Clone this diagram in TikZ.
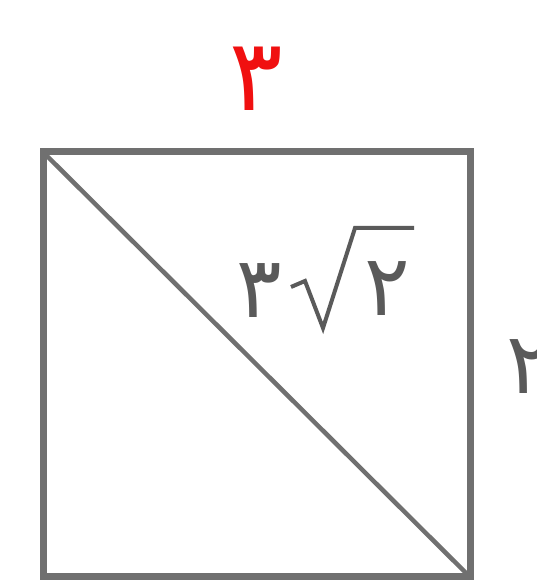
\documentclass[tikz,border=0pt]{standalone}
\usepackage{fontspec}
\newfontfamily\arabicfont[Script=Arabic]{DejaVu Sans}
\definecolor{edge}{HTML}{707070}
\definecolor{ink}{HTML}{5A5A5A}
\definecolor{redink}{HTML}{F01010}
\tikzset{
  frame/.style={draw=edge, line width=7pt},
  diag/.style={draw=edge, line width=4.5pt},
  radical/.style={draw=ink, line width=4pt, line join=miter},
  lab/.style={font=\arabicfont\fontsize{85}{85}\selectfont, text=ink, inner sep=0pt},
  redlab/.style={font=\arabicfont\fontsize{100}{100}\selectfont, text=redink, inner sep=0pt}
}
\begin{document}
\begin{tikzpicture}[x=1pt,y=1pt]
\useasboundingbox (0,0) rectangle (537,580);
\fill[white] (0,0) rectangle (537,580);
\coordinate (tl) at (43,428);
\coordinate (tr) at (470,428);
\coordinate (br) at (470,3);
\coordinate (bl) at (43,3);
\draw[diag] (tl) -- (br);
\draw[frame] (tl) -- (tr) -- (br) -- (bl) -- cycle;
\node[redlab] (top) at (256,501) {۳};
\node[lab] (three) at (259,289) {۳};
\coordinate (r0) at (291,293);
\coordinate (r1) at (305,299);
\coordinate (r2) at (323,252);
\coordinate (r3) at (355,352);
\coordinate (r4) at (414,352);
\draw[radical] (r0) -- (r1) -- (r2) -- (r3) -- (r4);
\node[lab] (two) at (387,291) {۲};
\node[lab] (side) at (529,213) {۲};
\end{tikzpicture}
\end{document}
